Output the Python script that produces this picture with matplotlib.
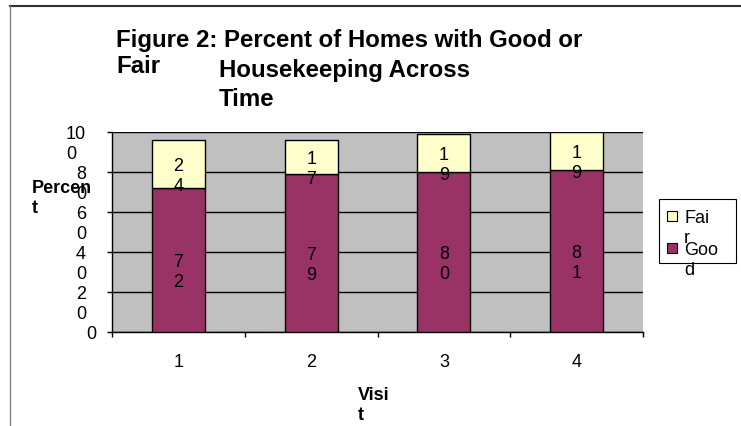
import matplotlib
matplotlib.use('Agg')
import matplotlib.pyplot as plt
from matplotlib.lines import Line2D
from matplotlib.patches import Rectangle

plt.rcParams['font.family'] = ['Liberation Sans', 'DejaVu Sans']

# data
visits = ['1', '2', '3', '4']
good = [72, 79, 80, 81]
fair = [24, 17, 19, 19]
series_names = ['Fair', 'Good']
yticks = [0, 20, 40, 60, 80, 100]
ytick_labels = ['0', '2\n0', '4\n0', '6\n0', '8\n0', '10\n0']

good_color = '#993366'
fair_color = '#FFFFCC'

W, H = 741, 427
fig = plt.figure(figsize=(W / 100, H / 100), dpi=100)
fig.patch.set_facecolor('white')


def px(x, y):
    # pixel (from top-left) -> figure fraction
    return x / W, 1 - y / H


# plot area
ax = fig.add_axes([112 / W, 1 - 333 / H, 531 / W, 200 / H])
ax.set_facecolor('#C0C0C0')
ax.set_xlim(-0.5, 3.5)
ax.set_ylim(0, 100)
for s in ['top', 'right']:
    ax.spines[s].set_visible(False)
ax.spines['left'].set_linewidth(1)
ax.spines['bottom'].set_linewidth(1)

ax.set_yticks(yticks)
ax.set_yticklabels([])
ax.tick_params(axis='y', length=3.6, width=1, direction='out')
ax.yaxis.grid(True, color='black', linewidth=1)
ax.set_axisbelow(True)

pos = list(range(len(visits)))
ax.set_xticks(pos)
ax.set_xticklabels(visits, fontsize=13)
ax.tick_params(axis='x', which='major', length=0, pad=15)
ax.set_xticks([p - 0.5 for p in pos] + [pos[-1] + 0.5], minor=True)
ax.tick_params(axis='x', which='minor', length=3.6, width=1, direction='out')

bw = 0.4
ax.bar(pos, good, bw, color=good_color, edgecolor='black', linewidth=1, zorder=3)
ax.bar(pos, fair, bw, bottom=good, color=fair_color, edgecolor='black',
       linewidth=1, zorder=3)


def wrap(v):
    return '\n'.join(str(v))


# value labels (wrapped like the original)
for i in pos:
    ax.annotate(wrap(good[i]), (i, good[i] / 2), xytext=(0, 4.7),
                textcoords='offset points', ha='center', va='top',
                fontsize=13, zorder=4)
    ax.annotate(wrap(fair[i]), (i, good[i] + fair[i] / 2), xytext=(0, 4.7),
                textcoords='offset points', ha='center', va='top',
                fontsize=13, zorder=4)

# y tick labels
for v, lab in zip(yticks, ytick_labels):
    dx = -11.5 if v == 0 else -18.7
    ax.annotate(lab, (0, v), xycoords=ax.get_yaxis_transform(),
                xytext=(dx, 4.7), textcoords='offset points',
                ha='right', va='top', multialignment='left', fontsize=13,
                annotation_clip=False)

# titles
tf = dict(fontsize=17.3, fontweight='bold', va='center', ha='left')
fig.text(*px(116, 40), 'Figure 2: Percent of Homes with Good or', **tf)
fig.text(*px(116, 67), 'Fair', **tf)
fig.text(*px(219, 71), 'Housekeeping Across', **tf)
fig.text(*px(219, 100), 'Time', **tf)

# axis titles
lf = dict(fontsize=13, fontweight='bold', ha='left', va='top', multialignment='left')
fig.text(*px(32, 180), 'Percen\nt', **lf)
fig.text(*px(358, 387), 'Visi\nt', **lf)

# legend
fig.patches.append(Rectangle(px(659, 264), 77 / W, 64 / H, transform=fig.transFigure,
                             facecolor='white', edgecolor='black', linewidth=0.8))
leg = [(series_names[0], fair_color, 212), (series_names[1], good_color, 244)]
for name, c, y in leg:
    fig.patches.append(Rectangle(px(667, y + 10), 10 / W, 10 / H, transform=fig.transFigure,
                                 facecolor=c, edgecolor='black', linewidth=0.8))
    fig.text(*px(684, y - 2), name[:3] + '\n' + name[3:], fontsize=13,
             ha='left', va='top', multialignment='left')

# outer border of the chart
fig.add_artist(Line2D([10 / W, 1], [1 - 7 / H, 1 - 7 / H], transform=fig.transFigure,
                      color='#333333', linewidth=1.5))
fig.add_artist(Line2D([10 / W, 10 / W], [0, 1 - 7 / H], transform=fig.transFigure,
                      color='#808080', linewidth=1))

fig.savefig('out.png', dpi=100)
